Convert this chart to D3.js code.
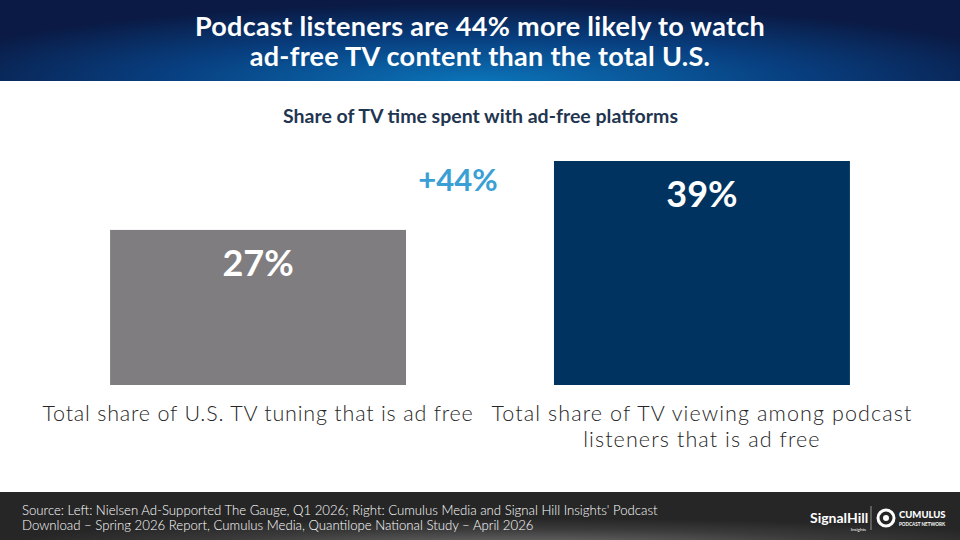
<!DOCTYPE html>
<html>
<head>
<meta charset="utf-8">
<title>Ad-free TV share</title>
<style>
  html, body { margin: 0; padding: 0; background: #fff; }
  svg { display: block; }
</style>
<script src="https://cdnjs.cloudflare.com/ajax/libs/d3/7.8.5/d3.min.js"></script>
</head>
<body>
<div id="chart"></div>
<script>
// chart data
var categories = ["us", "podcast"];
var values = [27, 39];
var valueLabels = ["27%", "39%"];
var categoryLines = [
    ["Total share of U.S. TV tuning that is ad free"],
    ["Total share of TV viewing among podcast", "listeners that is ad free"]
];
var liftLabel = "+44%";
var titleLines = [
    "Podcast listeners are 44% more likely to watch",
    "ad-free TV content than the total U.S."
];
var subtitle = "Share of TV time spent with ad-free platforms";
var sourceLines = [
    "Source: Left: Nielsen Ad-Supported The Gauge, Q1 2026; Right: Cumulus Media and Signal Hill Insights' Podcast",
    "Download \u2013 Spring 2026 Report, Cumulus Media, Quantilope National Study \u2013 April 2026"
];

var W = 960, H = 540;
var barColors = ["#7f7d80", "#00335f"];
var font = "Lato, 'Open Sans', sans-serif";

var svg = d3.select("#chart").append("svg")
    .attr("width", W)
    .attr("height", H);

var defs = svg.append("defs");

// header gradient
var hg = defs.append("radialGradient")
    .attr("id", "hdr")
    .attr("cx", "50%").attr("cy", "100%")
    .attr("r", "60%")
    .attr("gradientTransform", "translate(0.5,1) scale(1,1.6) translate(-0.5,-1)");
hg.append("stop").attr("offset", "0%").attr("stop-color", "#0b74b8");
hg.append("stop").attr("offset", "55%").attr("stop-color", "#083f80");
hg.append("stop").attr("offset", "100%").attr("stop-color", "#0a1a44");

// footer gradient
var fg = defs.append("radialGradient")
    .attr("id", "ftr")
    .attr("cx", "55%").attr("cy", "110%")
    .attr("r", "55%");
fg.append("stop").attr("offset", "0%").attr("stop-color", "#6a6a6a");
fg.append("stop").attr("offset", "60%").attr("stop-color", "#3a3a3a");
fg.append("stop").attr("offset", "100%").attr("stop-color", "#262626");

// header
svg.append("rect")
    .attr("x", 0).attr("y", 0)
    .attr("width", W).attr("height", 81)
    .attr("fill", "url(#hdr)");

svg.append("g").selectAll("text")
    .data(titleLines)
    .join("text")
    .attr("x", W / 2)
    .attr("y", function(d, i) { return 36 + i * 30; })
    .attr("text-anchor", "middle")
    .attr("fill", "#fff")
    .style("font-family", font)
    .style("font-weight", 700)
    .style("font-size", "27px")
    .style("letter-spacing", "0.3px")
    .text(function(d) { return d; });

// subtitle
svg.append("text")
    .attr("x", W / 2 + 0.5)
    .attr("y", 123)
    .attr("text-anchor", "middle")
    .attr("fill", "#1f3550")
    .style("font-family", font)
    .style("font-weight", 700)
    .style("font-size", "19.5px")
    .text(subtitle);

// scales
var x = d3.scaleBand()
    .domain(categories)
    .range([0, W])
    .paddingInner(1 / 3)
    .paddingOuter(0.248);

var y = d3.scaleLinear()
    .domain([0, 39])
    .range([385, 161]);

var bars = svg.append("g").attr("class", "bars");

bars.selectAll("rect")
    .data(values)
    .join("rect")
    .attr("x", function(d, i) { return x(categories[i]); })
    .attr("y", function(d) { return y(d); })
    .attr("width", x.bandwidth())
    .attr("height", function(d) { return y(0) - y(d); })
    .attr("fill", function(d, i) { return barColors[i]; });

bars.selectAll("text.val")
    .data(values)
    .join("text")
    .attr("class", "val")
    .attr("x", function(d, i) { return x(categories[i]) + x.bandwidth() / 2; })
    .attr("y", function(d) { return y(d) + 46; })
    .attr("text-anchor", "middle")
    .attr("fill", "#fff")
    .style("font-family", font)
    .style("font-weight", 700)
    .style("font-size", "36px")
    .text(function(d, i) { return valueLabels[i]; });

// lift label
svg.append("text")
    .attr("x", x(categories[1]) - 96)
    .attr("y", y(values[1]) + 30)
    .attr("text-anchor", "middle")
    .attr("fill", "#3a9fd5")
    .style("font-family", font)
    .style("font-weight", 700)
    .style("font-size", "31px")
    .text(liftLabel);

// category labels
var cats = svg.append("g").attr("class", "cats");
categoryLines.forEach(function(lines, i) {
    cats.append("g").selectAll("text")
        .data(lines)
        .join("text")
        .attr("x", x(categories[i]) + x.bandwidth() / 2)
        .attr("y", function(d, j) { return y(0) + 36 + j * 26; })
        .attr("text-anchor", "middle")
        .attr("fill", "#262626")
        .style("font-family", font)
        .style("font-weight", 300)
        .style("font-size", "21.5px")
        .style("letter-spacing", i === 0 ? "0.8px" : "1.1px")
        .text(function(d) { return d; });
});

// footer
svg.append("rect")
    .attr("x", 0).attr("y", 492)
    .attr("width", W).attr("height", H - 492)
    .attr("fill", "url(#ftr)");

svg.append("g").selectAll("text")
    .data(sourceLines)
    .join("text")
    .attr("x", 22)
    .attr("y", function(d, i) { return 515 + i * 15; })
    .attr("fill", "#fff")
    .style("font-family", font)
    .style("font-weight", 300)
    .style("font-size", "13.2px")
    .text(function(d) { return d; });

// logos
var logo = svg.append("g").attr("fill", "#fff")
    .style("font-family", font);
logo.append("text")
    .attr("x", 810).attr("y", 523)
    .style("font-weight", 700).style("font-size", "14px")
    .text("SignalHill");
logo.append("text")
    .attr("x", 866).attr("y", 531)
    .attr("text-anchor", "end")
    .style("font-size", "4.5px")
    .text("Insights");
logo.append("line")
    .attr("x1", 871).attr("x2", 871)
    .attr("y1", 506).attr("y2", 530)
    .attr("stroke", "#ddd").attr("stroke-width", 0.6);
logo.append("circle")
    .attr("cx", 886).attr("cy", 518).attr("r", 8)
    .attr("fill", "none").attr("stroke", "#fff").attr("stroke-width", 3);
logo.append("circle")
    .attr("cx", 886).attr("cy", 518).attr("r", 3);
logo.append("text")
    .attr("x", 899).attr("y", 518)
    .style("font-weight", 900).style("font-size", "9.5px")
    .text("CUMULUS");
logo.append("text")
    .attr("x", 899).attr("y", 526)
    .style("font-weight", 700).style("font-size", "4.6px")
    .text("PODCAST NETWORK");
</script>
</body>
</html>
